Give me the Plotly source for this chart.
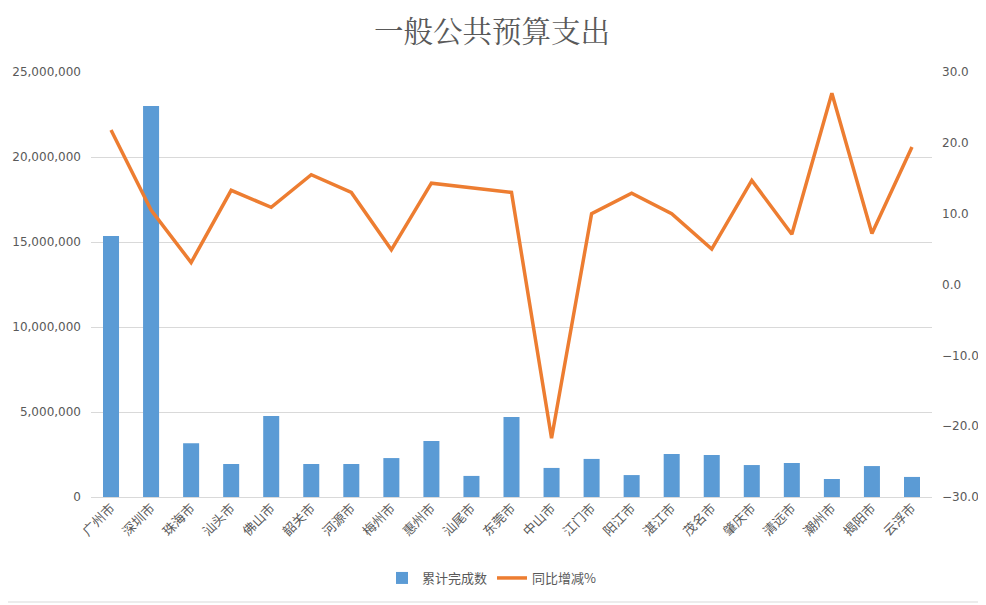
import plotly.graph_objects as go

# city names (x categories)
cities = ['广州市', '深圳市', '珠海市', '汕头市', '佛山市', '韶关市', '河源市',
          '梅州市', '惠州市', '汕尾市', '东莞市', '中山市', '江门市', '阳江市',
          '湛江市', '茂名市', '肇庆市', '清远市', '潮州市', '揭阳市', '云浮市']

# 累计完成数 (bars, left axis)
cumulative = [15350000, 23000000, 3160000, 1940000, 4760000, 1940000, 1940000,
              2290000, 3290000, 1240000, 4710000, 1710000, 2240000, 1290000,
              2530000, 2470000, 1880000, 2000000, 1060000, 1820000, 1180000]

# 同比增减% (line, right axis)
yoy_pct = [21.8, 10.5, 3.1, 13.3, 10.9, 15.5, 13.0, 4.9, 14.3, 13.7, 13.0,
           -21.7, 10.0, 12.9, 10.0, 5.0, 14.7, 7.1, 27.0, 7.2, 19.4]

left_ticks = [0, 5000000, 10000000, 15000000, 20000000, 25000000]
right_ticks = [-30, -20, -10, 0, 10, 20, 30]

# the page body has an 8px margin, so the figure is shrunk and shifted to suit
OFF = 8
W, H = 986 - OFF, 605 - OFF
ML, MR, MT, MB = 91 - OFF, 54, 72 - OFF, 108

text_col = '#595959'
grid_col = '#D9D9D9'
font_cjk = 'Noto Sans CJK SC, Microsoft YaHei, sans-serif'
font_num = 'DejaVu Sans, Verdana, sans-serif'

fig = go.Figure()
fig.add_trace(go.Bar(x=cities, y=cumulative, name='累计完成数',
                     marker=dict(color='#5B9BD5', line=dict(width=0))))
fig.add_trace(go.Scatter(x=cities, y=yoy_pct, name='同比增减%', mode='lines',
                         yaxis='y2', line=dict(color='#ED7D31', width=3.5)))

# right / bottom edges of the chart border
pw = W - ML - MR
ph = H - MT - MB
bx = (979 - OFF - ML) / pw
by = -(602 - OFF - (MT + ph)) / ph
fig.add_shape(type='line', xref='paper', yref='paper', x0=bx, x1=bx, y0=by, y1=1 + MT / ph,
              line=dict(color=grid_col, width=1))
fig.add_shape(type='line', xref='paper', yref='paper', x0=-ML / pw, x1=bx, y0=by, y1=by,
              line=dict(color=grid_col, width=1))

fig.update_layout(
    width=W, height=H,
    margin=dict(l=ML, r=MR, t=MT, b=MB, autoexpand=False),
    paper_bgcolor='white', plot_bgcolor='white',
    title=dict(text='一般公共预算支出', x=(492 - OFF) / W, xanchor='center',
               y=1 - (32 - OFF) / H, yanchor='middle',
               font=dict(family='Noto Serif CJK SC, SimSun, ' + font_cjk, size=29.5, color=text_col)),
    font=dict(family=font_cjk, color=text_col, size=12),
    bargap=0.6,
    showlegend=True,
    legend=dict(orientation='h', x=(492 - OFF - ML) / pw, xanchor='center',
                y=-(578 - OFF - (MT + ph)) / ph, yanchor='middle',
                font=dict(size=13, color=text_col), itemwidth=30, tracegroupgap=0),
    xaxis=dict(tickangle=-45, showgrid=False, showline=False, ticks='', automargin=False,
               tickfont=dict(size=13, color=text_col)),
    yaxis=dict(range=[0, 25000000], tickvals=left_ticks, tickformat=',d',
               showgrid=True, gridcolor=grid_col, gridwidth=1, zeroline=True,
               zerolinecolor=grid_col, zerolinewidth=1, ticks='', automargin=False,
               ticklabelstandoff=9,
               tickfont=dict(family=font_num, size=12, color=text_col)),
    yaxis2=dict(range=[-30, 30], tickvals=right_ticks, tickformat='.1f',
                overlaying='y', side='right', showgrid=False, zeroline=False, ticks='',
                automargin=False, ticklabelstandoff=9,
                tickfont=dict(family=font_num, size=12, color=text_col)),
)

fig.write_html('out.html')
